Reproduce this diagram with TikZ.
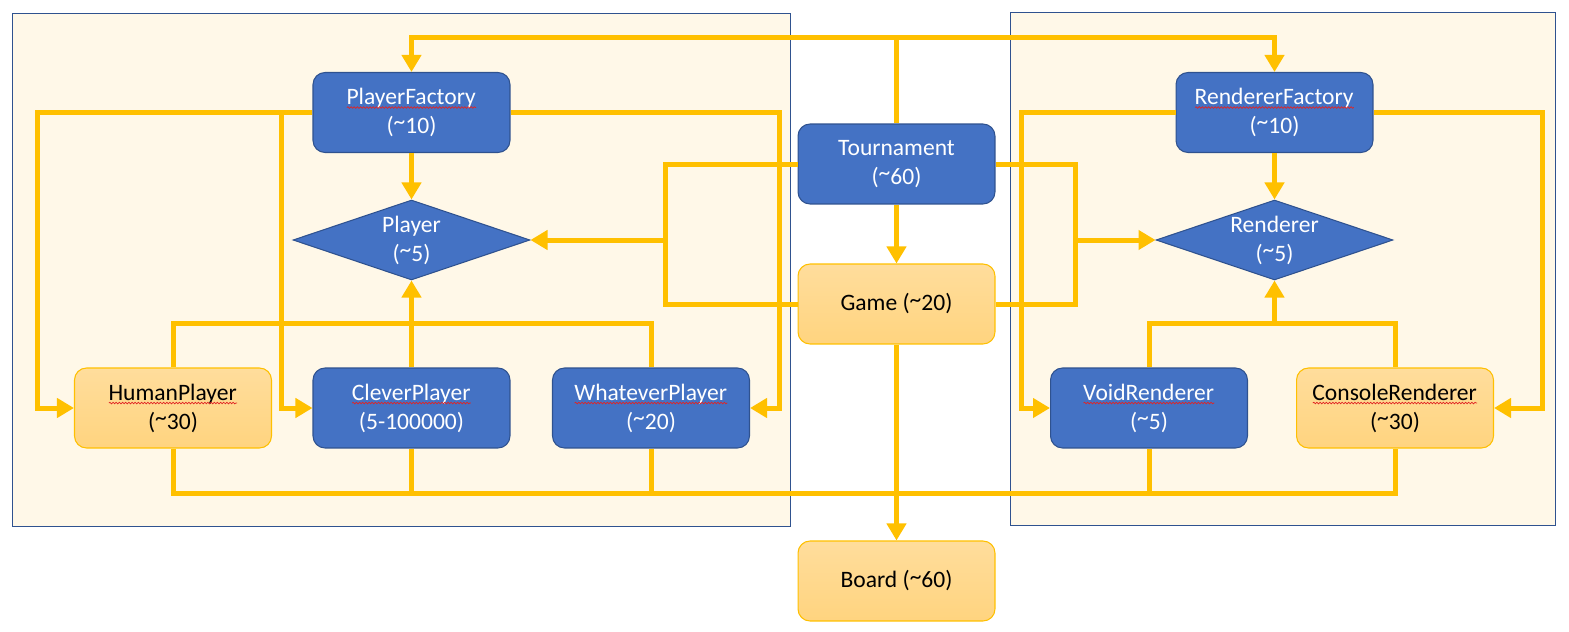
\documentclass[tikz,border=0pt]{standalone}
\usepackage{fontspec}
\setmainfont{Carlito}
\usetikzlibrary{arrows.meta,shapes.geometric,backgrounds,decorations.pathmorphing}
\definecolor{boxblue}{HTML}{4472C4}
\definecolor{boxedge}{HTML}{2F528F}
\definecolor{wiregold}{HTML}{FFC000}
\definecolor{warmtop}{HTML}{FFDD9C}
\definecolor{warmbot}{HTML}{FFD47F}
\definecolor{panelcream}{HTML}{FFF8E8}
\definecolor{spellred}{HTML}{E02424}
% raised tilde, as in the size labels
\newcommand\abt{\raisebox{0.35ex}{\textasciitilde}}
% spell-check squiggle under a word
\newsavebox\spellbox
\newlength\spellwd
\newcommand\spell[1]{\sbox\spellbox{#1}\setlength\spellwd{\wd\spellbox}%
  \rlap{\usebox\spellbox}\tikz[baseline=0pt,x=1pt,y=1pt,sharp corners]
  \draw[spellred,line width=0.4pt,decorate,
    decoration={snake,amplitude=0.45pt,segment length=1.8pt}]
    (0pt,-1.7pt) -- (\spellwd,-1.7pt);}
\tikzset{
  cls/.style={draw=boxedge, fill=boxblue, rounded corners=0.24cm,
    minimum width=3.94cm, minimum height=1.6cm, inner sep=1pt, align=center,
    text=white, line width=0.6pt, font=\fontsize{13.4pt}{16.5pt}\selectfont},
  warmcls/.style={cls, draw=wiregold, top color=warmtop, bottom color=warmbot,
    text=black},
  iface/.style={diamond, aspect=3, draw=boxedge, fill=boxblue,
    minimum width=4.74cm, minimum height=1.6cm, inner sep=0pt, align=center,
    text=white, line width=0.6pt, font=\fontsize{13.4pt}{16.5pt}\selectfont},
  panel/.style={draw=boxedge, fill=panelcream, line width=0.5pt},
  wire/.style={draw=wiregold, line width=0.1cm},
  feed/.style={wire, -{Triangle[length=0.34cm, width=0.38cm]}},
}
\begin{document}
\begin{tikzpicture}[x=0.02cm,y=-0.02cm]
  \useasboundingbox (0,0) rectangle (1569,632);
  % the two groups
  \begin{scope}[on background layer]
    \draw[panel] (12,13) rectangle (790,526);
    \draw[panel] (1010,12) rectangle (1555,525);
  \end{scope}
  % middle column
  \node[cls] (tour) at (896.5,164) {Tournament\\(\abt60)};
  \node[warmcls] (game) at (896.5,304) {Game (\abt20)};
  \node[warmcls] (board) at (896.5,581) {Board (\abt60)};
  % players
  \node[cls] (pf) at (411.5,112.5) {\spell{PlayerFactory}\\(\abt10)};
  \node[iface] (pl) at (411.5,240) {Player\\(\abt5)};
  \node[warmcls] (hp) at (173,408) {\spell{HumanPlayer}\\(\abt30)};
  \node[cls] (cp) at (411.5,408) {\spell{CleverPlayer}\\(5-100000)};
  \node[cls] (wp) at (651,408) {\spell{WhateverPlayer}\\(\abt20)};
  % renderers
  \node[cls] (rf) at (1274.5,112.5) {\spell{RendererFactory}\\(\abt10)};
  \node[iface] (rd) at (1274.5,240) {Renderer\\(\abt5)};
  \node[cls] (vr) at (1149,408) {\spell{VoidRenderer}\\(\abt5)};
  \node[warmcls] (cr) at (1395,408) {\spell{ConsoleRenderer}\\(\abt30)};
  % junctions
  \coordinate (tj) at (896.5,37);
  \coordinate (plj) at (281,112.5);
  \coordinate (lj) at (665,240);
  \coordinate (rj) at (1075,240);
  \coordinate (rdj) at (1274.5,324);
  % tournament to the factories
  \draw[wire] (tour.north) -- (tj);
  \draw[feed] (tj) -| (pf.north);
  \draw[feed] (tj) -| (rf.north);
  % tournament and game to the interfaces
  \draw[wire] (tour.west) -| (665,304) -- (game.west);
  \draw[feed] (lj) -- (pl.east);
  \draw[wire] (tour.east) -| (1075,304) -- (game.east);
  \draw[feed] (rj) -- (rd.west);
  \draw[feed] (tour.south) -- (game.north);
  \draw[feed] (game.south) -- (board.north);
  % factories create
  \draw[feed] (pf.south) -- (pl.north);
  \draw[feed] (pf.west) -| (37,408) -- (hp.west);
  \draw[feed] (plj) |- (cp.west);
  \draw[feed] (pf.east) -| (779,408) -- (wp.east);
  \draw[feed] (rf.south) -- (rd.north);
  \draw[feed] (rf.west) -| (1021,408) -- (vr.west);
  \draw[feed] (rf.east) -| (1542,408) -- (cr.east);
  % implementations
  \draw[wire] (hp.north) -- ++(0,-44) -| (wp.north);
  \draw[feed] (cp.north) -- (pl.south);
  \draw[wire] (vr.north) -- ++(0,-44) -| (cr.north);
  \draw[feed] (rdj) -- (rd.south);
  % common bottom bus
  \draw[wire] (hp.south) -- ++(0,45) -| (cr.south);
  \foreach \n in {cp,wp,vr} {
    \draw[wire] (\n.south) -- ++(0,45);
  }
\end{tikzpicture}
\end{document}
